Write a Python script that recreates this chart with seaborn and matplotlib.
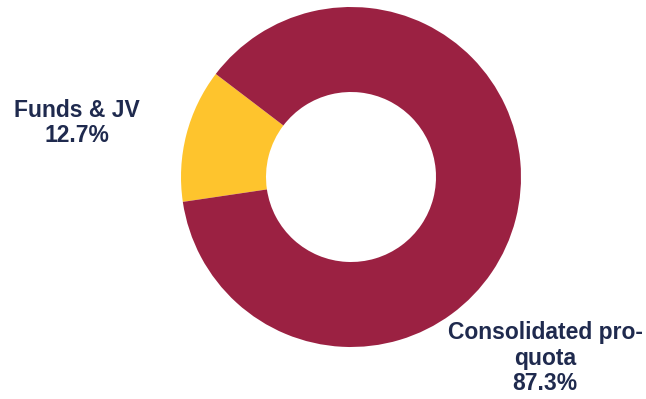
import matplotlib
matplotlib.use("Agg")
import matplotlib.pyplot as plt
import seaborn as sns

categories = ["Funds & JV", "Consolidated pro-\nquota"]
values = [12.7, 87.3]
colors = ["#FEC42D", "#9B2142"]
label_texts = ["Funds & JV\n12.7%", "Consolidated pro-\nquota\n87.3%"]

sns.set_style("white")
plt.rcParams['font.family'] = ['Liberation Sans', 'DejaVu Sans']

W, H = 646, 399
fig = plt.figure(figsize=(W / 100, H / 100), dpi=100)
cx, cy, R = 351, 177, 170
ax = fig.add_axes([(cx - R) / W, (H - cy - R) / H, 2 * R / W, 2 * R / H])
ax.pie(values, colors=colors, startangle=142.7, counterclock=True,
       radius=1.0, wedgeprops=dict(width=0.5, edgecolor="none"))
ax.set_xlim(-1, 1)
ax.set_ylim(-1, 1)
ax.set_aspect("equal")
ax.axis("off")

txtcol = "#1F2A4E"
fig.text(77 / W, 1 - 123 / H, label_texts[0], ha="center", va="center",
         fontsize=16.5, fontweight="bold", color=txtcol, linespacing=1.15)
fig.text(545 / W, 1 - 358 / H, label_texts[1], ha="center", va="center",
         fontsize=16.5, fontweight="bold", color=txtcol, linespacing=1.15)

fig.savefig("out.png", dpi=100)
